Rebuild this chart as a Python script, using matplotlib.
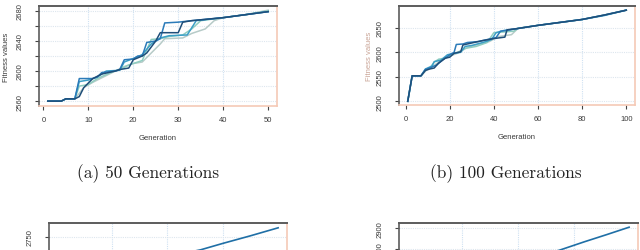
import numpy as np
import matplotlib.pyplot as plt
import matplotlib.ticker as ticker

W, H = 640, 251

# ---- (a) 50 generations: change points of each run (generation, fitness)
gen50_a = [1, 4, 5, 7, 8, 9, 11, 13, 16, 17, 19, 20, 22, 23, 24, 25, 26, 30, 31, 33, 40, 45, 50]
fit50_a = [2560, 2560, 2563, 2563, 2566, 2578, 2590, 2596, 2600, 2602, 2604, 2615, 2620, 2624,
           2632, 2640, 2651, 2651, 2665, 2667, 2671, 2675, 2679]
gen50_b = [1, 4, 5, 7, 8, 11, 12, 13, 16, 17, 18, 20, 21, 22, 23, 25, 26, 27, 30, 33, 40, 45, 50]
fit50_b = [2560, 2560, 2563, 2563, 2590, 2590, 2592, 2598, 2600, 2602, 2615, 2616, 2620, 2620,
           2638, 2640, 2643, 2664, 2665, 2667, 2671, 2675, 2679]
gen50_c = [1, 4, 5, 7, 8, 10, 12, 14, 17, 18, 21, 22, 24, 26, 28, 32, 34, 40, 45, 50]
fit50_c = [2560, 2560, 2563, 2563, 2586, 2588, 2592, 2600, 2601, 2612, 2619, 2622, 2636, 2644,
           2647, 2648, 2667, 2671, 2675, 2679]
gen50_d = [1, 4, 5, 7, 8, 10, 12, 15, 17, 19, 22, 23, 24, 26, 28, 31, 33, 35, 40, 45, 50]
fit50_d = [2560, 2560, 2563, 2563, 2580, 2582, 2590, 2598, 2602, 2608, 2614, 2628, 2642, 2643,
           2646, 2648, 2656, 2667, 2671, 2675, 2680]
gen50_e = [1, 4, 5, 7, 9, 11, 14, 16, 18, 20, 22, 24, 26, 27, 31, 33, 36, 38, 40, 45, 50]
fit50_e = [2560, 2560, 2563, 2563, 2578, 2585, 2594, 2600, 2606, 2610, 2612, 2624, 2636, 2643,
           2644, 2650, 2656, 2667, 2671, 2675, 2681]

# ---- (b) 100 generations
gen100_a = [1, 3, 7, 9, 11, 13, 15, 18, 20, 22, 25, 26, 28, 31, 35, 40, 45, 46, 50, 60, 70, 80, 90, 100]
fit100_a = [2500, 2552, 2552, 2563, 2566, 2568, 2578, 2588, 2590, 2598, 2601, 2615, 2617, 2620,
            2624, 2628, 2631, 2646, 2648, 2655, 2661, 2667, 2676, 2686]
gen100_b = [1, 3, 7, 9, 12, 14, 17, 20, 22, 23, 26, 28, 33, 38, 41, 43, 46, 50, 60, 70, 80, 90, 100]
fit100_b = [2500, 2552, 2552, 2565, 2570, 2574, 2585, 2595, 2600, 2616, 2617, 2620, 2622, 2627,
            2630, 2643, 2645, 2648, 2655, 2661, 2667, 2676, 2686]
gen100_c = [1, 3, 7, 9, 12, 13, 16, 19, 22, 25, 27, 30, 35, 39, 41, 44, 47, 50, 60, 70, 80, 90, 100]
fit100_c = [2500, 2552, 2552, 2566, 2572, 2581, 2584, 2595, 2598, 2600, 2612, 2614, 2620, 2626,
            2640, 2644, 2646, 2648, 2655, 2661, 2667, 2675, 2686]
gen100_d = [1, 3, 7, 9, 11, 13, 15, 18, 21, 24, 27, 32, 37, 40, 43, 49, 51, 60, 70, 80, 90, 100]
fit100_d = [2500, 2552, 2552, 2563, 2568, 2580, 2586, 2588, 2596, 2601, 2608, 2612, 2620, 2640,
            2641, 2643, 2649, 2655, 2661, 2667, 2676, 2686]
gen100_e = [1, 3, 7, 10, 13, 16, 20, 24, 28, 33, 38, 42, 48, 51, 60, 70, 80, 90, 100]
fit100_e = [2500, 2552, 2552, 2566, 2573, 2584, 2592, 2599, 2610, 2616, 2622, 2632, 2636, 2649,
            2655, 2661, 2667, 2676, 2686]

# ---- (c), (d): only the top of these panels is visible
gen_c = [1, 5, 20, 50, 100, 130, 150, 175, 200]
fit_c = [2540, 2580, 2620, 2660, 2700, 2717, 2733, 2752, 2772]
gen_d = [1, 5, 20, 50, 100, 137, 160, 180, 200]
fit_d = [2455, 2520, 2600, 2680, 2740, 2795, 2836, 2870, 2905]

colors = ["#b7cbc8", "#8fcdc0", "#3b9fc6", "#2b7bb9", "#1f4e79"]

runs50 = [(gen50_e, fit50_e), (gen50_d, fit50_d), (gen50_c, fit50_c), (gen50_b, fit50_b), (gen50_a, fit50_a)]
runs100 = [(gen100_e, fit100_e), (gen100_d, fit100_d), (gen100_c, fit100_c),
           (gen100_b, fit100_b), (gen100_a, fit100_a)]


def px_axes(fig, left, top, right, bottom):
    """Add axes given in pixel coordinates measured from the top-left corner."""
    return fig.add_axes([left / W, 1 - bottom / H, (right - left) / W, (bottom - top) / H])


def style_axes(ax, xlim, ylim, xticks, yticks, ylabels, ylab_x,
               ylab_color="#3a3a3a", show_x=True):
    ax.set_xlim(*xlim)
    ax.set_ylim(*ylim)
    ax.set_xticks(xticks)
    ax.set_yticks(yticks)
    ax.set_yticklabels(ylabels)
    for x in xticks[1:-1]:
        ax.axvline(x, color="#cfe1f2", lw=0.8, ls=(0, (1, 1)), zorder=0)
    for y in yticks:
        ax.axhline(y, color="#dde6ee", lw=0.8, ls=(0, (1, 1)), zorder=0)
    ax.spines["top"].set_color("#5c5c5c")
    ax.spines["left"].set_color("#5c5c5c")
    ax.spines["top"].set_linewidth(1.4)
    ax.spines["left"].set_linewidth(1.2)
    ax.spines["bottom"].set_color("#f5c9b6")
    ax.spines["right"].set_color("#f5c9b6")
    ax.spines["bottom"].set_linewidth(1.2)
    ax.spines["right"].set_linewidth(1.2)
    ax.tick_params(axis="x", length=3, width=0.8, color="#444444", pad=4,
                   labelsize=5.5, labelcolor="#3a3a3a", labelbottom=show_x)
    ax.tick_params(axis="y", length=3, width=0.8, color="#444444", pad=8,
                   labelsize=5.5, labelcolor="#3a3a3a", labelrotation=90)
    for lab in ax.get_yticklabels():
        lab.set_va("center")
    if show_x:
        ax.set_xlabel("Generation", fontsize=5.5, color="#3a3a3a", family="Liberation Sans")
        ax.xaxis.set_label_coords(0.5, -0.28)
    ax.set_ylabel("Fitness values", fontsize=5.5, color=ylab_color, family="Liberation Sans")
    ax.yaxis.label.set_va("center")
    ax.yaxis.set_label_coords(ylab_x, 0.5)
    for lab in ax.get_xticklabels() + ax.get_yticklabels():
        lab.set_family("Liberation Sans")


fig = plt.figure(figsize=(W / 100, H / 100), dpi=100)

# (a)
ax1 = px_axes(fig, 39, 7, 277, 107)
for (g, f), c in zip(runs50, colors):
    ax1.plot(g, f, color=c, lw=1.1)
lab_a = [str(v) if v % 40 == 0 else "" for v in range(2560, 2681, 20)]
style_axes(ax1, (-0.96, 51.96), (2553.5, 2686.5), [0, 10, 20, 30, 40, 50],
           list(range(2560, 2681, 20)), lab_a, -0.135)

# (b)
ax2 = px_axes(fig, 399, 7, 635, 106)
for (g, f), c in zip(runs100, colors):
    ax2.plot(g, f, color=c, lw=1.1)
style_axes(ax2, (-2.96, 103.96), (2492.5, 2694.5), [0, 20, 40, 60, 80, 100],
           [2500, 2550, 2600, 2650], ["2500", "2550", "2600", "2650"], -0.125, "#c9a496")

# (c)
ax3 = px_axes(fig, 49, 224, 287, 324)
ax3.plot(gen_c, fit_c, color="#1f6fa6", lw=1.2)
style_axes(ax3, (-7, 208), (2534, 2784), [0, 50, 100, 150, 200],
           [2550, 2600, 2650, 2700, 2750], ["2550", "2600", "2650", "2700", "2750"], -0.13,
           show_x=False)

# (d)
ax4 = px_axes(fig, 399, 224, 638, 324)
ax4.plot(gen_d, fit_d, color="#1f6fa6", lw=1.2)
style_axes(ax4, (-7, 208), (2449, 2925), [0, 50, 100, 150, 200],
           [2500, 2600, 2700, 2800, 2900], ["2500", "2600", "2700", "2800", "2900"], -0.125,
           show_x=False)

fig.text(148 / W, 1 - 174 / H, "(a) 50 Generations", family="cmr10", fontsize=12.5,
         ha="center", va="center", color="#222222")
fig.text(506 / W, 1 - 174 / H, "(b) 100 Generations", family="cmr10", fontsize=12.5,
         ha="center", va="center", color="#222222")

fig.savefig("out.png", dpi=100)
